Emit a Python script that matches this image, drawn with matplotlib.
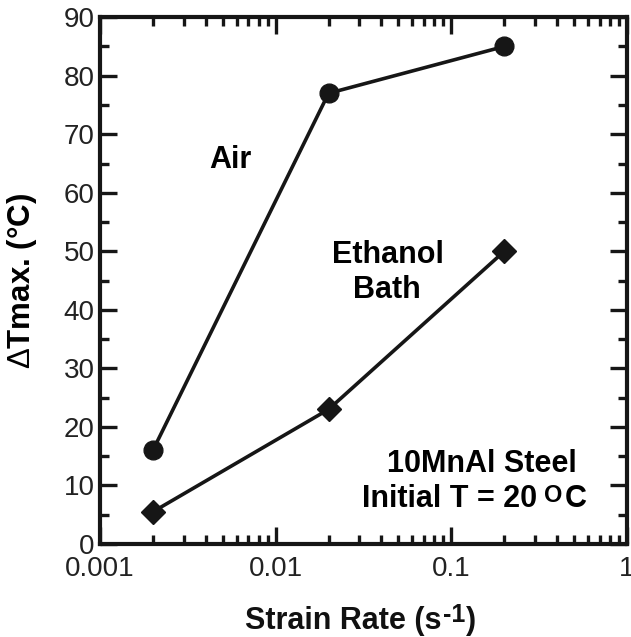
import matplotlib
matplotlib.use("Agg")
import matplotlib.pyplot as plt
from matplotlib.ticker import LogLocator, FixedLocator, NullFormatter

plt.rcParams['font.family'] = ['Liberation Sans', 'DejaVu Sans']
plt.rcParams['mathtext.fontset'] = 'custom'
plt.rcParams['mathtext.rm'] = 'Liberation Sans'
plt.rcParams['mathtext.bf'] = 'Liberation Sans:bold'

strain_rate = [0.002, 0.02, 0.2]
air = [16, 77, 85]
ethanol = [5.5, 23, 50]
xticks = [0.001, 0.01, 0.1, 1]
xticklabels = ['0.001', '0.01', '0.1', '1']
yticks = [0, 10, 20, 30, 40, 50, 60, 70, 80, 90]

fig = plt.figure(figsize=(6.31, 6.37), dpi=100)
ax = fig.add_axes([0.1585, 0.146, 0.8352, 0.827])

color = '#161616'
ax.plot(strain_rate, air, '-', color=color, lw=2.6, marker='o', ms=13.5, zorder=3)
ax.plot(strain_rate, ethanol, '-', color=color, lw=2.6, marker='D', ms=12, zorder=3)

ax.set_xscale('log')
ax.set_xlim(0.001, 1)
ax.set_ylim(0, 90)
ax.set_xticks(xticks)
ax.set_xticklabels(xticklabels)
ax.xaxis.set_minor_locator(LogLocator(base=10, subs=range(2, 10)))
ax.xaxis.set_minor_formatter(NullFormatter())
ax.set_yticks(yticks)
ax.yaxis.set_minor_locator(FixedLocator([5, 15, 25, 35, 45, 55, 65, 75, 85]))

for s in ax.spines.values():
    s.set_linewidth(3)
    s.set_color(color)

ax.tick_params(which='both', direction='in', top=True, right=True, colors=color,
               labelsize=20, width=2.4)
ax.tick_params(which='major', length=12)
ax.tick_params(which='minor', length=6.5)
ax.tick_params(axis='y', which='major', pad=4)
ax.tick_params(axis='x', which='major', pad=9)
for lab in ax.get_xticklabels() + ax.get_yticklabels():
    lab.set_color('#222222')

# y label
ax.set_ylabel(r'$\mathrm{\Delta}$Tmax. (°C)', fontsize=22.5, fontweight='bold')
ax.yaxis.set_label_coords(-0.1157, 0.50)

# x label built from pieces: "Strain Rate (s" + raised "-1" + ")"
lab_fs = 22
t1 = fig.text(245 / 631, 1 - 629 / 637, 'Strain Rate (s', fontsize=lab_fs,
              fontweight='bold', ha='left', va='baseline', color='#111111')
t2 = ax.annotate('-1', xy=(1, 1), xycoords=t1, xytext=(0.8, 2.5), textcoords='offset points',
                 fontsize=18, fontweight='bold', ha='left', va='top', color='#111111',
                 annotation_clip=False)
t3 = ax.annotate(')', xy=(1, 0), xycoords=(t2, t1), xytext=(1, 0), textcoords='offset points',
                 fontsize=lab_fs, fontweight='bold', ha='left', va='bottom', color='#111111',
                 annotation_clip=False)

ann_fs = 22
ax.text(0.0055, 64.2, 'Air', fontsize=ann_fs, fontweight='bold', ha='center', va='baseline')
ax.text(0.0434, 48.0, 'Ethanol', fontsize=ann_fs, fontweight='bold', ha='center', va='baseline')
ax.text(0.0430, 42.0, 'Bath', fontsize=ann_fs, fontweight='bold', ha='center', va='baseline')
ax.text(0.150, 12.3, '10MnAl Steel', fontsize=ann_fs, fontweight='bold', ha='center', va='baseline')

# "Initial T = 20 OC" with raised O
i1 = ax.text(10 ** (-3 + (362 - 100) / 527 * 3), 6.3, 'Initial T = 20',
             fontsize=ann_fs, fontweight='bold', ha='left', va='baseline')
i2 = ax.annotate('O', xy=(1, 1), xycoords=i1, xytext=(5, 0), textcoords='offset points',
                 fontsize=17, fontweight='bold', ha='left', va='top')
i3 = ax.annotate('C', xy=(1, 0), xycoords=(i2, i1), xytext=(2, 0), textcoords='offset points',
                 fontsize=ann_fs, fontweight='bold', ha='left', va='bottom')

fig.savefig('out.png', dpi=100)
